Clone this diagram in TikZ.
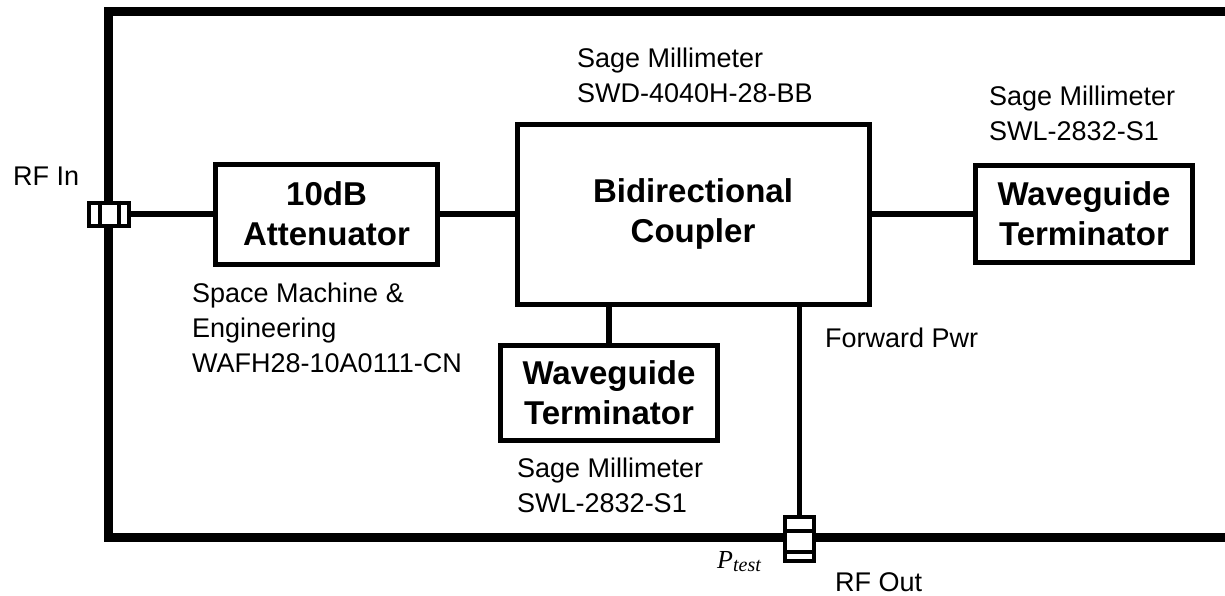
\documentclass[tikz,border=0pt]{standalone}
\usepackage{fontspec}
\setmainfont{Liberation Sans}
\newfontfamily\timesfont{Liberation Serif}
\usetikzlibrary{backgrounds}

\begin{document}
\begin{tikzpicture}[x=1pt,y=-1pt,
  block/.style={draw, line width=5pt, inner sep=0pt, align=center,
    font=\fontsize{33}{40}\selectfont\bfseries},
  tag/.style={inner sep=0pt, anchor=base west, align=left,
    font=\fontsize{27}{35}\selectfont},
  wire/.style={line width=5.5pt},
  enclosure/.style={line width=9pt, line join=miter},
  port/.style={draw, fill=white, line width=4pt, inner sep=0pt},
  portline/.style={line width=4pt}]

\useasboundingbox (0,0) rectangle (1225,595);

% components
\node[block, minimum width=222pt, minimum height=100pt] (att)  at (326.5,214) {10dB\\Attenuator};
\node[block, minimum width=352pt, minimum height=180pt] (coup) at (693,214) {Bidirectional\\Coupler};
\node[block, minimum width=217pt, minimum height=97pt]  (rt)   at (1084,214) {Waveguide\\Terminator};
\node[block, minimum width=217pt, minimum height=95pt]  (bt)   at (609,393) {Waveguide\\Terminator};

% ports on the enclosure wall
\node[port, minimum width=40pt, minimum height=23pt] (rfin)  at (109,214) {};
\node[port, minimum width=29pt, minimum height=44pt] (rfout) at (799.5,539) {};
\draw[portline] ([xshift=-9.5pt]rfin.north) -- ([xshift=-9.5pt]rfin.south);
\draw[portline] ([xshift=9.5pt]rfin.north)  -- ([xshift=9.5pt]rfin.south);
\draw[portline] ([yshift=8pt]rfout.west)    -- ([yshift=8pt]rfout.east);
\draw[portline] ([yshift=-12.5pt]rfout.west) -- ([yshift=-12.5pt]rfout.east);

\begin{pgfonlayer}{background}
  % enclosure, open on the right
  \coordinate (encTR) at (1230,11);
  \coordinate (encBR) at (1230,537);
  \draw[enclosure] (encTR) -- (108,11) -- (108,537) -- (encBR);
  % waveguide runs
  \draw[wire] (rfin.east) -- (att.west);
  \draw[wire] (att.east) -- (coup.west);
  \draw[wire] (coup.east) -- (rt.west);
  \draw[wire] (coup.south -| bt.north) -- (bt.north);
  \draw[wire] (coup.south -| rfout.north) -- (rfout.north);
\end{pgfonlayer}

% labels (each placed by the baseline of its last line)
\node[tag] (lin)   at (13,185)  {RF In};
\node[tag] (lcoup) at (577,102) {Sage Millimeter\\SWD-4040H-28-BB};
\node[tag] (lrt)   at (989,140) {Sage Millimeter\\SWL-2832-S1};
\node[tag] (latt)  at (192,372) {Space Machine \&\\Engineering\\WAFH28-10A0111-CN};
\node[tag] (lfwd)  at (825,347) {Forward Pwr};
\node[tag] (lbt)   at (517,512) {Sage Millimeter\\SWL-2832-S1};
\node[tag] (lout)  at (835,591) {RF Out};
\node[inner sep=0pt, anchor=base west] (ptest) at (717,568)
  {\timesfont\itshape\fontsize{26}{30}\selectfont P\raisebox{-3pt}{\fontsize{20}{24}\selectfont test}};

\end{tikzpicture}
\end{document}
